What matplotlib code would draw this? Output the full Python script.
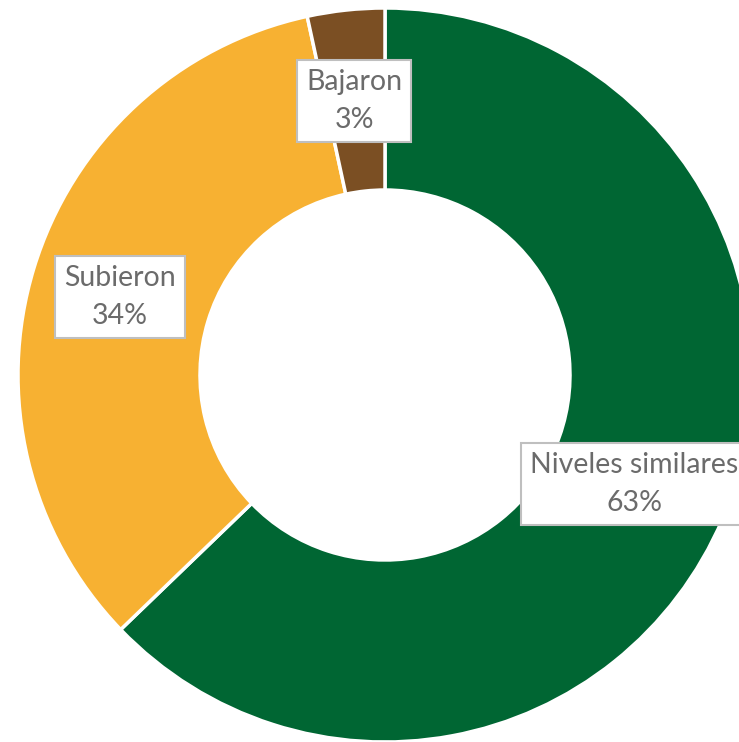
import matplotlib
matplotlib.use("Agg")
import matplotlib.pyplot as plt

categories = ["Niveles similares", "Subieron", "Bajaron"]
values = [62.8, 33.8, 3.4]
colors = ["#006633", "#F7B132", "#7B4F23"]

W, H = 739, 742
fig = plt.figure(figsize=(W / 100, H / 100), dpi=100)
ax = fig.add_axes([0, 0, 1, 1])

cx, cy = 385, H - 375
r_out, ring = 367, 182
ax.pie(values, colors=colors, startangle=90, counterclock=False,
       center=(cx, cy), radius=r_out, frame=True,
       wedgeprops=dict(width=ring, edgecolor="white", linewidth=2.5))
ax.set_xlim(0, W)
ax.set_ylim(0, H)
ax.set_aspect("equal")
ax.axis("off")

# label box centres in pixel space (x, y from top)
label_pos = [(634, 484), (120, 297), (354, 101)]
for name, v, (lx, ly) in zip(categories, values, label_pos):
    ax.text(lx, H - ly, f"{name}\n{round(v)}%", ha="center", va="center",
            fontsize=20.5, family="Lato", color="#6B6B6B", linespacing=1.6,
            bbox=dict(boxstyle="square,pad=0.32", facecolor="white",
                      edgecolor="#BFBFBF", linewidth=1.5))

fig.savefig("out.png", dpi=100)
